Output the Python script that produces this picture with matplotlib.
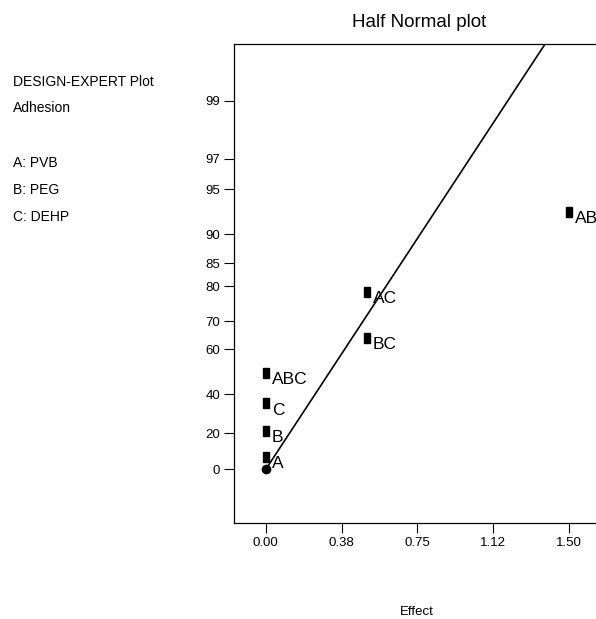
import numpy as np
import matplotlib
matplotlib.use("Agg")
import matplotlib.pyplot as plt
from statistics import NormalDist

plt.rcParams['font.family'] = ['Liberation Sans', 'DejaVu Sans']

# effects and their half normal % probability
terms = ["A", "B", "C", "ABC", "BC", "AC", "AB"]
effects = [0.0, 0.0, 0.0, 0.0, 0.5, 0.5, 1.5]
probs = [7.14, 21.43, 35.71, 50.0, 64.29, 78.57, 92.86]

# fitted line through the small effects
fit_effect = [0.0, 1.382]
fit_prob = [0.0, 99.706]

yticks = [0, 20, 40, 60, 70, 80, 85, 90, 95, 97, 99]
xticks = [0.0, 0.375, 0.75, 1.125, 1.5]
xticklabels = ["0.00", "0.38", "0.75", "1.12", "1.50"]

info = ["DESIGN-EXPERT Plot", "Adhesion", "", "A: PVB", "B: PEG", "C: DEHP"]

nd = NormalDist()
_inv = np.vectorize(nd.inv_cdf, otypes=[float])
_cdf = np.vectorize(nd.cdf, otypes=[float])


def fwd(p):
    p = np.clip(np.asarray(p, dtype=float), -99.9999, 99.9999)
    return np.sign(p) * _inv(0.5 + np.abs(p) / 200.0)


def bwd(z):
    z = np.asarray(z, dtype=float)
    return np.sign(z) * (2 * _cdf(np.abs(z)) - 1) * 100.0


fig = plt.figure(figsize=(5.96, 6.19), dpi=100)
ax = fig.add_axes([234 / 596, 96 / 619, 380 / 596, 479 / 619])
ax.set_yscale('function', functions=(fwd, bwd))

ax.plot(fit_effect, fit_prob, color='black', lw=1.2, zorder=2)

sq = [(-0.35, -0.5), (0.35, -0.5), (0.35, 0.5), (-0.35, 0.5), (-0.35, -0.5)]
ax.plot(effects, probs, linestyle='none', marker=sq, markersize=6.5,
        color='black', zorder=3)
ax.plot([0.0], [0.0], linestyle='none', marker='o', markersize=6,
        color='black', zorder=3)

for t, e, p in zip(terms, effects, probs):
    ax.annotate(t, (e, p), xytext=(6, -7), textcoords='offset pixels',
                ha='left', va='center', fontsize=12.5)

ax.set_xlim(-0.157, 1.723)
ax.set_ylim(-29.2, 99.706)
ax.set_yticks(yticks)
ax.set_yticklabels([str(v) for v in yticks])
ax.set_xticks(xticks)
ax.set_xticklabels(xticklabels)
ax.minorticks_off()
ax.tick_params(direction='out', length=7, width=0.8, labelsize=9.5, pad=3)

for s in ax.spines.values():
    s.set_linewidth(0.9)

ax.set_title("Half Normal plot", fontsize=13.5, pad=12, x=(419 - 234) / 380)
fig.text((234 + 365 / 2) / 596, 1 - 612 / 619, "Effect", fontsize=9.5,
         ha='center', va='center')

ys = [82, 108, 135, 163, 190, 217]
for s, y in zip(info, ys):
    if s:
        fig.text(13 / 596, 1 - y / 619, s, fontsize=10, ha='left', va='center')

fig.savefig("out.png", dpi=100)
